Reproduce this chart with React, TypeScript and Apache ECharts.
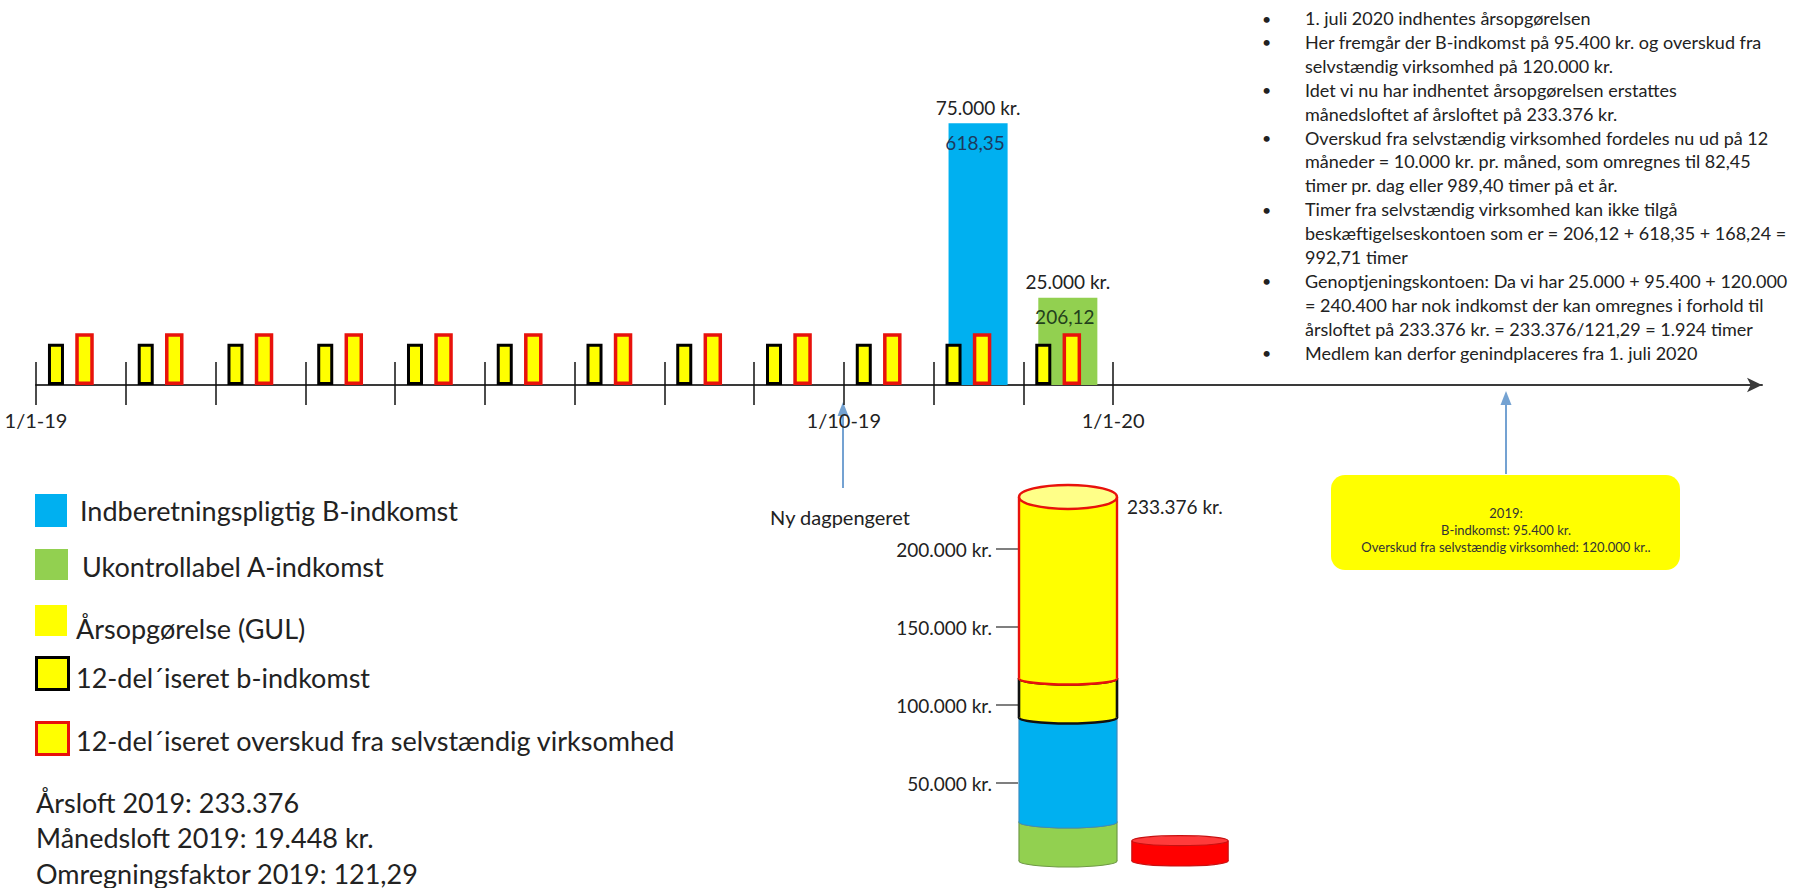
import React, { useEffect, useRef } from "react";
import * as echarts from "echarts";

// ---------- data ----------
const monthCategories = ["jan", "feb", "mar", "apr", "maj", "jun", "jul", "aug", "sep", "okt", "nov", "dec"];
const monthTickValues = [0, 1, 2, 3, 4, 5, 6, 7, 8, 9, 10, 11, 12];
const tickLabelValues = [0, 9, 12];
const tickLabels = ["1/1-19", "1/10-19", "1/1-20"];

// 12-del'iseret b-indkomst (95.400 / 12) and overskud (120.000 / 12) per month
const monthlyBIncome = [7950, 7950, 7950, 7950, 7950, 7950, 7950, 7950, 7950, 7950, 7950, 7950];
const monthlySelfEmployed = [10000, 10000, 10000, 10000, 10000, 10000, 10000, 10000, 10000, 10000, 10000, 10000];

// reported income bars
const reportedMonths = [10, 11];
const reportedValues = [75000, 25000];
const reportedHours = ["618,35", "206,12"];

// cylinder (årsloft)
const cylinderCategories = ["Indkomst 2019", "Over årsloft"];
const cylinderSegmentNames = [
  "Ukontrollabel A-indkomst",
  "Indberetningspligtig B-indkomst",
  "12-del´iseret b-indkomst",
  "12-del´iseret overskud fra selvstændig virksomhed",
];
const cylinderSegmentValues = [25000, 67000, 25000, 116376];
const excessValues = [13000];
const cylinderTicks = [50000, 100000, 150000, 200000];

// texts
const topNotes = [
  ["1. juli 2020 indhentes årsopgørelsen"],
  ["Her fremgår der B-indkomst på 95.400 kr. og overskud fra", "selvstændig virksomhed på 120.000 kr."],
  ["Idet vi nu har indhentet årsopgørelsen erstattes", "månedsloftet af årsloftet på 233.376 kr."],
  [
    "Overskud fra selvstændig virksomhed fordeles nu ud på 12",
    "måneder = 10.000 kr. pr. måned, som omregnes til 82,45",
    "timer pr. dag eller 989,40 timer på et år.",
  ],
  [
    "Timer fra selvstændig virksomhed kan ikke tilgå",
    "beskæftigelseskontoen som er = 206,12 + 618,35 + 168,24 =",
    "992,71 timer",
  ],
  [
    "Genoptjeningskontoen: Da vi har 25.000 + 95.400 + 120.000",
    "= 240.400 har nok indkomst der kan omregnes i forhold til",
    "årsloftet på 233.376 kr. = 233.376/121,29 = 1.924 timer",
  ],
  ["Medlem kan derfor genindplaceres fra 1. juli 2020"],
];
const legendLabels = [
  "Indberetningspligtig B-indkomst",
  "Ukontrollabel A-indkomst",
  "Årsopgørelse (GUL)",
  "12-del´iseret b-indkomst",
  "12-del´iseret overskud fra selvstændig virksomhed",
];
const footerNotes = ["Årsloft 2019: 233.376", "Månedsloft 2019: 19.448 kr.", "Omregningsfaktor 2019: 121,29"];
const boxLines = ["2019:", "B-indkomst: 95.400 kr.", "Overskud fra selvstændig virksomhed: 120.000 kr.."];
const newRateLabel = "Ny dagpengeret";

// ---------- styles ----------
const FONT = "Lato, 'Open Sans', sans-serif";
const TEXT = "#222222";
const BLUE = "#00b0f0";
const GREEN = "#92d050";
const YELLOW = "#ffff00";
const RED = "#e8120c";
const ARROW = "#74a2d2";
const BAR_COLORS = [BLUE, GREEN];
const HOURS_COLORS = ["#1d3a5e", "#23401c"];
const SEG_STYLE = [
  { fill: GREEN, top: "#a9dc72", stroke: "#6f9a45", lw: 1.2 },
  { fill: BLUE, top: "#40c4f4", stroke: "#3a8cc0", lw: 1.2 },
  { fill: YELLOW, top: "#ffff70", stroke: "#111111", lw: 2.6 },
  { fill: YELLOW, top: "#ffff88", stroke: RED, lw: 2.4 },
];
const MONTH_MAX = 19.23;

function fmtKr(v: number): string {
  return String(Math.round(v)).replace(/\B(?=(\d{3})+(?!\d))/g, ".") + " kr.";
}

function cylinderShape(cx: number, w: number, yB: number, yT: number, ryB: number, ryT: number, s: any) {
  const l = cx - w / 2;
  return [
    { type: "ellipse", shape: { cx, cy: yB, rx: w / 2, ry: ryB }, style: { fill: s.fill, stroke: s.stroke, lineWidth: s.lw } },
    { type: "rect", shape: { x: l, y: yT, width: w, height: yB - yT }, style: { fill: s.fill } },
    { type: "line", shape: { x1: l, y1: yT, x2: l, y2: yB }, style: { stroke: s.stroke, lineWidth: s.lw } },
    { type: "line", shape: { x1: l + w, y1: yT, x2: l + w, y2: yB }, style: { stroke: s.stroke, lineWidth: s.lw } },
    { type: "ellipse", shape: { cx, cy: yT, rx: w / 2, ry: ryT }, style: { fill: s.top, stroke: s.stroke, lineWidth: s.lw } },
  ];
}

function buildOption() {
  // stacked cylinder items
  const cylData: number[][] = [];
  let acc = 0;
  cylinderSegmentValues.forEach((v, i) => {
    cylData.push([0, acc, acc + v, i]);
    acc += v;
  });
  const excessData = excessValues.map((v) => [1, 0, v]);

  const graphics: any[] = [];
  // top notes
  let line = 0;
  topNotes.forEach((item) => {
    item.forEach((t, j) => {
      const y = 18 + line * 23.9;
      if (j === 0) {
        graphics.push({ type: "text", x: 1262, y, style: { text: "•", fontSize: 16, fontFamily: FONT, fill: TEXT, verticalAlign: "middle" } });
      }
      graphics.push({ type: "text", x: 1305, y, style: { text: t, fontSize: 18, fontFamily: FONT, fill: TEXT, verticalAlign: "middle" } });
      line++;
    });
  });

  // legend
  const legendY = [510, 566, 628, 677, 740];
  graphics.push({ type: "rect", shape: { x: 35, y: 494, width: 32, height: 33 }, style: { fill: BLUE } });
  graphics.push({ type: "rect", shape: { x: 35, y: 549, width: 33, height: 31 }, style: { fill: GREEN } });
  graphics.push({ type: "rect", shape: { x: 35, y: 605, width: 32, height: 31 }, style: { fill: YELLOW } });
  graphics.push({ type: "rect", shape: { x: 36.5, y: 657.5, width: 32, height: 32 }, style: { fill: YELLOW, stroke: "#000", lineWidth: 3 } });
  graphics.push({ type: "rect", shape: { x: 36.5, y: 722.5, width: 32, height: 32 }, style: { fill: YELLOW, stroke: RED, lineWidth: 3 } });
  const legendX = [80, 82, 76, 76, 76];
  legendLabels.forEach((t, i) => {
    graphics.push({ type: "text", x: legendX[i], y: legendY[i], style: { text: t, fontSize: 27, fontFamily: FONT, fill: TEXT, verticalAlign: "middle" } });
  });
  footerNotes.forEach((t, i) => {
    graphics.push({ type: "text", x: 36, y: 802 + i * 35.5, style: { text: t, fontSize: 27, fontFamily: FONT, fill: TEXT, verticalAlign: "middle" } });
  });

  // arrow to 1/10-19
  graphics.push({ type: "line", shape: { x1: 843, y1: 488, x2: 843, y2: 412 }, style: { stroke: ARROW, lineWidth: 2 } });
  graphics.push({ type: "polygon", shape: { points: [[843, 402], [837.5, 416], [848.5, 416]] }, style: { fill: ARROW } });
  graphics.push({ type: "text", x: 840, y: 517, style: { text: newRateLabel, fontSize: 20, fontFamily: FONT, fill: TEXT, align: "center", verticalAlign: "middle" } });

  // yellow info box + arrow
  graphics.push({ type: "line", shape: { x1: 1506, y1: 474, x2: 1506, y2: 402 }, style: { stroke: ARROW, lineWidth: 2 } });
  graphics.push({ type: "polygon", shape: { points: [[1506, 391], [1500.5, 405], [1511.5, 405]] }, style: { fill: ARROW } });
  graphics.push({ type: "rect", shape: { x: 1331, y: 475, width: 349, height: 95, r: 14 }, style: { fill: YELLOW } });
  boxLines.forEach((t, i) => {
    graphics.push({ type: "text", x: 1506, y: 513 + i * 17, style: { text: t, fontSize: 13, fontFamily: FONT, fill: "#333", align: "center", verticalAlign: "middle" } });
  });

  const smallRect = (offL: number, offR: number, stroke: string, lw: number) => (params: any, api: any) => {
    const m = api.value(0);
    const v = api.value(1);
    const p0 = api.coord([m + offL, 0]);
    const p1 = api.coord([m + offR, v]);
    return {
      type: "rect",
      shape: { x: p0[0], y: p1[1], width: p1[0] - p0[0], height: p0[1] - p1[1] - lw / 2 },
      style: { fill: YELLOW, stroke, lineWidth: lw },
    };
  };

  return {
    animation: false,
    backgroundColor: "#ffffff",
    textStyle: { fontFamily: FONT },
    grid: [
      { left: 36, right: 32, top: 85, bottom: 503 },
      { left: 1012, width: 224, top: 471, bottom: 27 },
    ],
    xAxis: [
      {
        gridIndex: 0, type: "value", min: 0, max: MONTH_MAX, interval: 1,
        splitLine: { show: false },
        axisLine: { show: true, symbol: ["none", "arrow"], symbolSize: [11, 15], lineStyle: { color: "#3a3a3a", width: 2 } },
        axisTick: { show: true, customValues: monthTickValues, length: 20, lineStyle: { color: "#111", width: 1.5 } },
        axisLabel: {
          show: true, customValues: tickLabelValues, margin: 25, fontSize: 20, color: TEXT, fontFamily: FONT,
          formatter: (v: number) => { const i = tickLabelValues.indexOf(v); return i >= 0 ? tickLabels[i] : ""; },
        },
      },
      {
        gridIndex: 0, type: "value", min: 0, max: MONTH_MAX, interval: 1, position: "bottom",
        splitLine: { show: false }, axisLine: { show: false },
        axisTick: { show: true, inside: true, customValues: monthTickValues, length: 23, lineStyle: { color: "#111", width: 1.5 } },
        axisLabel: { show: false },
      },
      { gridIndex: 1, type: "category", data: cylinderCategories, show: false },
    ],
    yAxis: [
      { gridIndex: 0, type: "value", min: 0, max: 86000, show: false },
      { gridIndex: 0, type: "value", min: 0, max: 60000, show: false },
      {
        gridIndex: 1, type: "value", min: 0, max: 250000, interval: 50000, offset: -6,
        axisLine: { show: false }, splitLine: { show: false },
        axisTick: { show: true, customValues: cylinderTicks, length: 22, lineStyle: { color: "#555", width: 1.5 } },
        axisLabel: { customValues: cylinderTicks, formatter: (v: number) => fmtKr(v), fontSize: 19, color: TEXT, margin: 26, fontFamily: FONT },
      },
    ],
    graphic: { elements: graphics },
    series: [
      {
        name: "Indberettet indkomst",
        type: "custom",
        xAxisIndex: 0, yAxisIndex: 0,
        encode: { x: 0, y: 1 },
        data: reportedMonths.map((m, i) => [m, reportedValues[i]]),
        renderItem: (params: any, api: any) => {
          const i = params.dataIndex;
          const m = api.value(0);
          const v = api.value(1);
          const pL = api.coord([m + 0.167, 0]);
          const pR = api.coord([m + 0.825, v]);
          const cx = (pL[0] + pR[0]) / 2;
          return {
            type: "group",
            children: [
              { type: "rect", shape: { x: pL[0], y: pR[1], width: pR[0] - pL[0], height: pL[1] - pR[1] }, style: { fill: BAR_COLORS[i] } },
              { type: "text", style: { text: fmtKr(v), x: cx, y: pR[1] - 16, fontSize: 19, fontFamily: FONT, fill: TEXT, align: "center", verticalAlign: "middle" } },
              { type: "text", style: { text: reportedHours[i], x: cx - 3, y: pR[1] + 19, fontSize: 19, fontFamily: FONT, fill: HOURS_COLORS[i], align: "center", verticalAlign: "middle" } },
            ],
          };
        },
      },
      {
        name: "12-del´iseret b-indkomst",
        type: "custom",
        xAxisIndex: 0, yAxisIndex: 1,
        encode: { x: 0, y: 1 },
        data: monthlyBIncome.map((v, i) => [i, v]),
        renderItem: smallRect(0.15, 0.295, "#000000", 3),
      },
      {
        name: "12-del´iseret overskud fra selvstændig virksomhed",
        type: "custom",
        xAxisIndex: 0, yAxisIndex: 1,
        encode: { x: 0, y: 1 },
        data: monthlySelfEmployed.map((v, i) => [i, v]),
        renderItem: smallRect(0.457, 0.624, RED, 3.5),
      },
      {
        name: "Årsloft",
        type: "custom",
        xAxisIndex: 2, yAxisIndex: 2,
        encode: { x: 0, y: [1, 2] },
        data: cylData,
        renderItem: (params: any, api: any) => {
          const cat = api.value(0);
          const s0 = api.value(1);
          const s1 = api.value(2);
          const seg = api.value(3);
          const pB = api.coord([cat, s0]);
          const pT = api.coord([cat, s1]);
          const w = api.size([1, 0])[0] * 0.875;
          const isTop = seg === cylinderSegmentValues.length - 1;
          const children: any[] = cylinderShape(pB[0], w, pB[1], pT[1], 6, isTop ? 12 : 6, SEG_STYLE[seg]);
          if (isTop) {
            children.push({ type: "text", style: { text: fmtKr(s1), x: pB[0] + w / 2 + 10, y: pT[1] + 10, fontSize: 19, fontFamily: FONT, fill: TEXT, verticalAlign: "middle" } });
          }
          return { type: "group", children };
        },
      },
      {
        name: "Over årsloft",
        type: "custom",
        xAxisIndex: 2, yAxisIndex: 2,
        encode: { x: 0, y: [1, 2] },
        data: excessData,
        renderItem: (params: any, api: any) => {
          const cat = api.value(0);
          const pB = api.coord([cat, api.value(1)]);
          const pT = api.coord([cat, api.value(2)]);
          const w = api.size([1, 0])[0] * 0.86;
          return {
            type: "group",
            children: cylinderShape(pB[0], w, pB[1], pT[1], 5, 5, { fill: "#ff0000", top: "#ff3b3b", stroke: "#c81010", lw: 1.2 }),
          };
        },
      },
    ],
  };
}

export default function App() {
  const ref = useRef<HTMLDivElement>(null);
  useEffect(() => {
    if (!ref.current) return;
    const chart = echarts.init(ref.current, null, { renderer: "svg" });
    chart.setOption(buildOption() as any);
    return () => chart.dispose();
  }, []);
  return (
    <div
      ref={ref}
      style={{ position: "absolute", left: 0, top: 0, width: 1794, height: 888, background: "#fff" }}
    />
  );
}
